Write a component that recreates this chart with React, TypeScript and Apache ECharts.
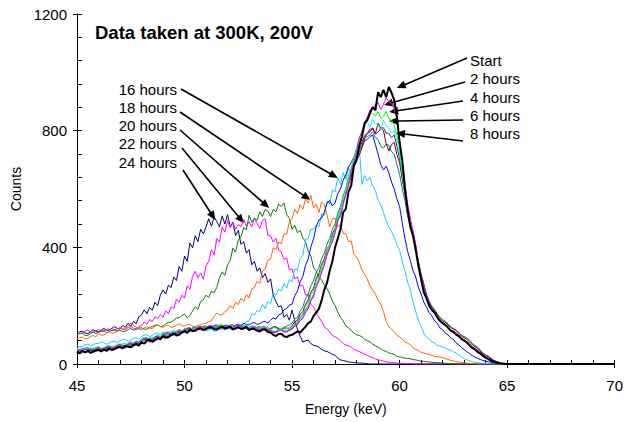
import React, { useEffect, useRef } from "react";
import * as echarts from "echarts";

// Spectra are binned every 0.125 keV from 45 keV to 65 keV (161 bins per run).
const ENERGY_START = 45;
const ENERGY_STEP = 0.125;
const ENERGY_END = 70;

const start = [
  42, 36, 44, 40, 46, 38, 42, 47,
  48, 43, 50, 45, 53, 48, 51, 56,
  58, 54, 62, 59, 57, 64, 68, 63,
  74, 70, 80, 84, 76, 82, 88, 85,
  95, 90, 92, 99, 104, 98, 100, 108,
  112, 107, 118, 113, 114, 120, 122, 116,
  120, 125, 126, 119, 118, 124, 128, 122,
  124, 129, 118, 122, 126, 120, 122, 127,
  116, 121, 120, 114, 112, 118, 118, 110,
  108, 100, 96, 103, 104, 95, 92, 98,
  100, 106, 112, 108, 118, 128, 140, 146,
  165, 176, 190, 218, 255, 278, 320, 352,
  400, 430, 462, 520, 532, 590, 612, 680,
  700, 748, 780, 826, 836, 860, 881, 870,
  932, 915, 940, 915, 950, 930, 905, 847,
  760, 699, 600, 528, 470, 440, 391, 336,
  290, 246, 225, 200, 185, 176, 160, 148,
  140, 134, 125, 114, 110, 101, 96, 86,
  80, 74, 64, 55, 50, 41, 36, 28,
  22, 17, 12, 8, 5, 3, 2, 1,
  0,
];
const hours2 = [
  50, 45, 55, 49, 48, 53, 47, 52,
  56, 51, 52, 58, 60, 55, 58, 63,
  66, 61, 62, 68, 72, 70, 76, 73,
  80, 86, 88, 83, 84, 92, 96, 90,
  100, 106, 108, 102, 104, 111, 114, 109,
  118, 122, 124, 117, 120, 127, 130, 124,
  124, 130, 132, 125, 126, 121, 120, 127,
  130, 125, 124, 131, 132, 126, 126, 121,
  120, 126, 128, 122, 118, 123, 124, 117,
  116, 111, 110, 117, 118, 112, 112, 117,
  122, 134, 140, 158, 165, 186, 195, 218,
  230, 268, 290, 312, 340, 380, 400, 418,
  450, 492, 505, 544, 585, 610, 665, 690,
  730, 775, 795, 830, 845, 872, 876, 890,
  895, 872, 890, 912, 900, 895, 872, 840,
  770, 692, 620, 548, 500, 456, 410, 344,
  300, 268, 230, 212, 190, 178, 162, 150,
  142, 136, 128, 117, 112, 107, 98, 88,
  82, 76, 66, 57, 52, 46, 38, 30,
  24, 20, 14, 10, 6, 4, 2, 1,
  0,
];
const hours4 = [
  46, 52, 49, 55, 48, 54, 55, 50,
  58, 53, 54, 60, 62, 57, 60, 65,
  64, 69, 70, 64, 68, 74, 78, 72,
  84, 80, 82, 90, 92, 87, 98, 94,
  104, 109, 110, 103, 106, 114, 118, 112,
  122, 116, 118, 125, 128, 121, 124, 130,
  130, 124, 122, 129, 128, 135, 134, 127,
  126, 133, 132, 125, 124, 131, 130, 124,
  126, 120, 120, 127, 128, 121, 122, 128,
  118, 125, 124, 116, 114, 121, 120, 126,
  128, 140, 146, 164, 172, 198, 210, 238,
  250, 286, 300, 336, 350, 392, 410, 440,
  460, 508, 530, 578, 600, 648, 670, 712,
  740, 776, 798, 820, 842, 866, 858, 850,
  866, 842, 850, 866, 840, 836, 818, 786,
  740, 664, 600, 530, 480, 446, 400, 340,
  295, 262, 228, 200, 186, 175, 160, 148,
  140, 135, 126, 116, 112, 105, 96, 86,
  80, 75, 66, 56, 52, 45, 36, 28,
  22, 17, 12, 8, 5, 3, 2, 1,
  0,
];
const hours6 = [
  54, 49, 50, 57, 58, 52, 52, 57,
  60, 55, 56, 62, 64, 59, 62, 67,
  70, 65, 66, 72, 76, 71, 80, 77,
  86, 91, 92, 86, 88, 95, 100, 94,
  106, 100, 102, 109, 112, 106, 116, 112,
  120, 125, 126, 119, 122, 128, 128, 122,
  126, 131, 132, 125, 124, 130, 130, 124,
  128, 121, 122, 129, 130, 124, 126, 132,
  122, 128, 128, 121, 120, 126, 126, 120,
  118, 113, 112, 119, 120, 114, 114, 120,
  124, 134, 138, 154, 160, 184, 200, 226,
  240, 274, 290, 326, 345, 382, 405, 436,
  455, 498, 520, 562, 590, 630, 660, 700,
  730, 768, 790, 816, 830, 812, 840, 822,
  820, 800, 836, 818, 810, 792, 800, 764,
  720, 650, 590, 520, 470, 438, 395, 338,
  292, 260, 226, 198, 184, 173, 158, 146,
  138, 133, 124, 115, 110, 104, 95, 86,
  80, 74, 64, 55, 50, 44, 36, 28,
  22, 18, 13, 8, 5, 3, 2, 1,
  0,
];
const hours8 = [
  44, 49, 48, 42, 42, 47, 50, 45,
  52, 47, 48, 54, 56, 51, 54, 59,
  62, 57, 58, 64, 68, 63, 72, 70,
  78, 84, 84, 78, 80, 87, 92, 88,
  98, 93, 94, 101, 106, 100, 110, 106,
  116, 121, 122, 116, 118, 124, 126, 120,
  124, 129, 130, 124, 122, 127, 128, 122,
  126, 120, 120, 126, 128, 123, 124, 129,
  118, 124, 126, 119, 116, 121, 122, 116,
  114, 108, 108, 114, 116, 110, 110, 115,
  120, 130, 134, 150, 156, 178, 190, 218,
  235, 266, 285, 318, 340, 374, 398, 430,
  450, 490, 515, 556, 585, 622, 650, 688,
  710, 742, 760, 784, 790, 806, 805, 788,
  795, 808, 810, 792, 790, 776, 785, 746,
  705, 636, 580, 516, 470, 440, 396, 340,
  295, 262, 228, 202, 186, 175, 160, 148,
  140, 136, 126, 117, 113, 107, 98, 88,
  82, 77, 68, 59, 54, 48, 38, 30,
  24, 20, 14, 10, 6, 4, 2, 1,
  0,
];
const hours10 = [
  40, 45, 46, 40, 42, 47, 48, 43,
  50, 45, 46, 52, 54, 49, 52, 57,
  60, 55, 56, 62, 64, 68, 70, 66,
  76, 81, 82, 76, 78, 85, 90, 86,
  96, 102, 104, 98, 100, 106, 110, 105,
  116, 111, 112, 118, 122, 117, 126, 121,
  122, 128, 130, 124, 124, 131, 132, 126,
  128, 134, 134, 127, 124, 129, 130, 124,
  126, 120, 120, 126, 128, 122, 124, 118,
  120, 126, 126, 120, 116, 122, 124, 118,
  132, 144, 150, 170, 180, 204, 220, 246,
  260, 294, 310, 342, 360, 394, 410, 446,
  465, 498, 520, 556, 580, 618, 640, 678,
  700, 716, 740, 776, 790, 796, 810, 790,
  826, 808, 800, 756, 730, 752, 760, 718,
  690, 634, 590, 524, 480, 446, 405, 350,
  305, 270, 235, 210, 195, 183, 168, 156,
  148, 143, 134, 125, 120, 115, 106, 96,
  90, 85, 76, 66, 60, 54, 44, 35,
  30, 25, 18, 12, 8, 5, 3, 1,
  0,
];
const hours12 = [
  48, 43, 44, 50, 52, 47, 46, 50,
  54, 49, 50, 56, 58, 53, 56, 60,
  64, 59, 60, 66, 70, 65, 74, 71,
  80, 85, 86, 80, 82, 89, 94, 90,
  100, 95, 96, 103, 108, 102, 112, 108,
  118, 123, 124, 118, 120, 126, 128, 122,
  126, 121, 122, 128, 130, 124, 126, 131,
  130, 124, 124, 130, 132, 126, 128, 133,
  124, 130, 130, 124, 122, 128, 128, 122,
  122, 128, 128, 122, 120, 126, 130, 134,
  140, 154, 160, 182, 195, 224, 240, 268,
  285, 314, 330, 362, 380, 410, 430, 462,
  480, 516, 540, 576, 600, 636, 660, 692,
  710, 726, 750, 774, 780, 786, 795, 776,
  770, 746, 740, 754, 750, 728, 720, 684,
  650, 600, 560, 506, 470, 442, 400, 350,
  310, 276, 240, 215, 198, 187, 172, 160,
  152, 147, 138, 128, 122, 117, 108, 99,
  94, 90, 82, 71, 64, 58, 48, 38,
  32, 27, 20, 13, 9, 6, 3, 1,
  0,
];
const hours14 = [
  52, 47, 48, 54, 56, 51, 50, 55,
  58, 53, 54, 60, 62, 57, 60, 64,
  68, 63, 64, 70, 74, 69, 78, 75,
  84, 89, 90, 84, 86, 93, 98, 93,
  104, 99, 100, 106, 110, 105, 116, 112,
  122, 116, 118, 124, 128, 122, 124, 129,
  130, 125, 126, 132, 134, 128, 128, 133,
  132, 126, 126, 133, 136, 130, 140, 135,
  134, 140, 142, 136, 138, 144, 146, 141,
  150, 158, 154, 168, 172, 186, 190, 202,
  205, 234, 250, 282, 300, 338, 360, 402,
  430, 472, 494, 500, 520, 552, 560, 542,
  552, 584, 600, 630, 648, 676, 690, 710,
  720, 740, 745, 766, 770, 780, 785, 752,
  720, 684, 665, 678, 655, 624, 600, 566,
  540, 483, 430, 386, 355, 320, 298, 262,
  240, 212, 195, 176, 165, 148, 140, 124,
  118, 106, 100, 90, 84, 73, 66, 56,
  50, 42, 36, 29, 24, 19, 16, 12,
  10, 8, 6, 4, 3, 2, 1, 0,
  0,
];
const hours16 = [
  64, 59, 60, 66, 68, 63, 66, 70,
  70, 75, 74, 68, 72, 77, 78, 73,
  80, 85, 84, 78, 82, 88, 90, 85,
  94, 99, 100, 94, 98, 104, 106, 101,
  110, 105, 106, 112, 114, 109, 118, 115,
  120, 115, 116, 122, 124, 118, 120, 126,
  112, 117, 118, 112, 114, 120, 122, 116,
  120, 125, 126, 134, 128, 136, 136, 146,
  148, 172, 168, 184, 180, 204, 190, 214,
  206, 244, 236, 256, 250, 276, 260, 290,
  282, 326, 322, 362, 372, 428, 430, 462,
  462, 476, 470, 516, 510, 560, 548, 596,
  590, 640, 616, 656, 632, 672, 656, 700,
  690, 740, 616, 646, 628, 640, 610, 594,
  562, 546, 520, 490, 470, 454, 435, 408,
  391, 350, 320, 280, 255, 212, 180, 150,
  130, 106, 93, 86, 75, 72, 64, 62,
  58, 55, 50, 47, 42, 38, 32, 24,
  18, 14, 11, 8, 6, 4, 3, 2,
  2, 1, 1, 0, 0, 0, 0, 0,
  0,
];
const hours18 = [
  86, 91, 92, 86, 88, 94, 98, 93,
  104, 99, 100, 106, 112, 106, 108, 113,
  127, 121, 120, 132, 140, 133, 126, 120,
  117, 123, 128, 122, 122, 129, 134, 128,
  126, 131, 132, 126, 127, 133, 138, 132,
  130, 135, 136, 130, 128, 133, 134, 138,
  140, 146, 148, 164, 175, 168, 168, 180,
  185, 200, 190, 212, 204, 226, 214, 238,
  226, 258, 262, 284, 276, 318, 326, 356,
  360, 398, 392, 418, 412, 448, 444, 488,
  498, 530, 516, 546, 530, 566, 552, 578,
  536, 548, 520, 556, 546, 512, 470, 498,
  500, 470, 478, 448, 446, 420, 422, 376,
  367, 348, 322, 308, 290, 268, 254, 240,
  219, 204, 180, 146, 127, 120, 110, 98,
  93, 86, 75, 72, 65, 56, 50, 46,
  40, 38, 34, 33, 30, 26, 25, 24,
  22, 18, 16, 12, 11, 8, 7, 5,
  4, 3, 2, 1, 1, 0, 0, 0,
  0, 0, 0, 0, 0, 0, 0, 0,
  0,
];
const hours20 = [
  100, 105, 106, 98, 98, 104, 110, 104,
  108, 113, 114, 108, 110, 116, 118, 112,
  116, 111, 112, 118, 122, 116, 118, 123,
  124, 119, 120, 126, 128, 133, 134, 129,
  130, 138, 142, 144, 150, 158, 158, 166,
  172, 158, 166, 182, 196, 188, 214, 220,
  236, 228, 250, 244, 262, 296, 316, 304,
  340, 356, 398, 384, 426, 436, 468, 460,
  510, 486, 500, 492, 522, 506, 530, 524,
  506, 530, 522, 548, 540, 552, 512, 500,
  462, 476, 450, 458, 432, 420, 386, 370,
  330, 318, 298, 288, 270, 258, 240, 216,
  200, 178, 160, 148, 130, 124, 115, 106,
  100, 98, 93, 84, 80, 76, 68, 62,
  58, 53, 46, 43, 38, 36, 32, 27,
  24, 23, 20, 19, 18, 15, 14, 12,
  10, 9, 8, 7, 6, 5, 5, 4,
  3, 2, 2, 1, 1, 0, 0, 0,
  0, 0, 0, 0, 0, 0, 0, 0,
  0, 0, 0, 0, 0, 0, 0, 0,
  0,
];
const hours22 = [
  110, 104, 106, 113, 116, 110, 108, 114,
  118, 112, 112, 119, 120, 114, 116, 121,
  124, 118, 118, 125, 128, 122, 122, 127,
  132, 144, 136, 152, 146, 162, 156, 170,
  160, 182, 172, 196, 190, 222, 212, 236,
  226, 268, 256, 300, 318, 296, 312, 290,
  336, 352, 392, 374, 430, 418, 470, 452,
  492, 468, 484, 462, 478, 470, 496, 472,
  488, 470, 500, 482, 464, 492, 498, 440,
  440, 418, 432, 390, 384, 358, 364, 322,
  326, 292, 298, 268, 270, 236, 238, 204,
  195, 174, 160, 146, 127, 120, 110, 98,
  93, 88, 80, 70, 65, 63, 58, 50,
  46, 43, 38, 33, 30, 25, 22, 17,
  14, 13, 10, 7, 6, 5, 4, 3,
  3, 2, 2, 1, 1, 0, 0, 0,
  0, 0, 0, 0, 0, 0, 0, 0,
  0, 0, 0, 0, 0, 0, 0, 0,
  0, 0, 0, 0, 0, 0, 0, 0,
  0, 0, 0, 0, 0, 0, 0, 0,
  0,
];
const hours24 = [
  106, 111, 112, 106, 104, 110, 118, 112,
  110, 116, 122, 116, 116, 122, 128, 122,
  120, 132, 126, 140, 128, 146, 138, 162,
  168, 186, 172, 194, 184, 212, 200, 236,
  254, 240, 270, 262, 298, 286, 334, 318,
  370, 352, 415, 398, 440, 420, 462, 446,
  470, 498, 472, 505, 488, 470, 508, 480,
  512, 470, 486, 440, 458, 410, 420, 380,
  392, 340, 352, 318, 330, 296, 310, 280,
  292, 236, 214, 196, 200, 160, 170, 150,
  185, 148, 120, 96, 75, 80, 82, 70,
  64, 62, 58, 50, 45, 43, 38, 33,
  30, 20, 14, 12, 10, 7, 6, 5,
  4, 3, 3, 2, 1, 0, 0, 0,
  0, 0, 0, 0, 0, 0, 0, 0,
  0, 0, 0, 0, 0, 0, 0, 0,
  0, 0, 0, 0, 0, 0, 0, 0,
  0, 0, 0, 0, 0, 0, 0, 0,
  0, 0, 0, 0, 0, 0, 0, 0,
  0, 0, 0, 0, 0, 0, 0, 0,
  0,
];

// Drawing order: the oldest run last so it sits on top.
const SERIES_NAMES = [
  "24 hours", "22 hours", "20 hours", "18 hours", "16 hours", "14 hours", "12 hours",
  "10 hours", "8 hours", "6 hours", "4 hours", "2 hours", "Start",
];
const SERIES_VALUES = [
  hours24, hours22, hours20, hours18, hours16, hours14, hours12,
  hours10, hours8, hours6, hours4, hours2, start,
];
const SERIES_COLORS = [
  "#000080", "#ff00ff", "#008000", "#ff6600", "#1ec8ff", "#0000ff", "#008080",
  "#800000", "#800080", "#00ffff", "#00ff00", "#ff00ff", "#000000",
];

// Callouts: label text, label anchor (px), arrow tail (px), arrow tip (keV, counts)
const RIGHT_LABELS = ["Start", "2 hours", "4 hours", "6 hours", "8 hours"];
const RIGHT_LABEL_Y = [60, 78, 97, 115, 133];
const RIGHT_TAILS = [[467, 58], [465, 82], [463, 101], [463, 120], [463, 141]];
const RIGHT_TIPS = [[59.87, 946], [59.28, 888], [59.51, 864], [59.51, 833], [59.83, 792]];

const LEFT_LABELS = ["16 hours", "18 hours", "20 hours", "22 hours", "24 hours"];
const LEFT_LABEL_Y = [89, 107, 125, 143, 162];
const LEFT_TAILS = [[181, 89], [180, 112], [180, 130], [182, 148], [183, 170]];
const LEFT_TIPS = [[57.13, 638], [55.86, 562], [53.94, 535], [52.76, 483], [51.43, 494]];

const FONT = "'Liberation Sans', Arial, Helvetica, sans-serif";

function toPoints(values: number[]): number[][] {
  const pts = values.map((v, i) => [ENERGY_START + i * ENERGY_STEP, v]);
  pts.push([ENERGY_END, 0]);
  return pts;
}

function arrow(tail: number[], tip: number[]) {
  const dx = tip[0] - tail[0];
  const dy = tip[1] - tail[1];
  const len = Math.sqrt(dx * dx + dy * dy) || 1;
  const ux = dx / len;
  const uy = dy / len;
  const headLen = 9;
  const headHalf = 4;
  const bx = tip[0] - ux * headLen;
  const by = tip[1] - uy * headLen;
  return [
    {
      type: "line",
      silent: true,
      shape: { x1: tail[0], y1: tail[1], x2: bx + ux, y2: by + uy },
      style: { stroke: "#000", lineWidth: 1.6 },
    },
    {
      type: "polygon",
      silent: true,
      shape: {
        points: [
          [tip[0], tip[1]],
          [bx - uy * headHalf, by + ux * headHalf],
          [bx + uy * headHalf, by - ux * headHalf],
        ],
      },
      style: { fill: "#000" },
    },
  ];
}

export default function App() {
  const ref = useRef<HTMLDivElement>(null);

  useEffect(() => {
    if (!ref.current) return;
    const chart = echarts.init(ref.current, null, { renderer: "svg" });

    const axisLineStyle = { color: "#000", width: 1 };
    const labelStyle = { color: "#000", fontSize: 15, fontFamily: FONT };
    const plain = (v: number) => String(v);

    const option: any = {
      animation: false,
      backgroundColor: "#fff",
      title: {
        text: "Data taken at 300K, 200V",
        left: 95,
        top: 23,
        padding: 0,
        textStyle: { fontSize: 18.5, fontWeight: "bold", color: "#000", fontFamily: FONT },
      },
      grid: { left: 77, right: 1, top: 14, bottom: 58, containLabel: false },
      xAxis: [
        {
          type: "value",
          position: "bottom",
          min: 45,
          max: 70,
          interval: 5,
          name: "Energy (keV)",
          nameLocation: "middle",
          nameGap: 38,
          nameTextStyle: { color: "#000", fontSize: 14, fontFamily: FONT },
          axisLine: { show: true, onZero: false, lineStyle: axisLineStyle },
          axisTick: { show: true, inside: true, length: 4, lineStyle: axisLineStyle },
          minorTick: { show: true, splitNumber: 5, length: 4, lineStyle: axisLineStyle },
          axisLabel: { ...labelStyle, margin: 14, formatter: plain },
          splitLine: { show: false },
        },
        {
          type: "value",
          position: "bottom",
          min: 45,
          max: 70,
          interval: 5,
          axisLine: { show: false },
          axisTick: { show: true, inside: false, length: 4, lineStyle: axisLineStyle },
          axisLabel: { show: false },
          splitLine: { show: false },
        },
      ],
      yAxis: [
        {
          type: "value",
          position: "left",
          min: 0,
          max: 1200,
          interval: 400,
          name: "Counts",
          nameLocation: "middle",
          nameGap: 52,
          nameTextStyle: { color: "#000", fontSize: 14, fontFamily: FONT },
          axisLine: { show: true, onZero: false, lineStyle: axisLineStyle },
          axisTick: { show: true, inside: true, length: 5, lineStyle: axisLineStyle },
          minorTick: { show: true, splitNumber: 5, length: 5, lineStyle: axisLineStyle },
          axisLabel: { ...labelStyle, margin: 10, formatter: plain },
          splitLine: { show: false },
        },
        {
          type: "value",
          position: "left",
          min: 0,
          max: 1200,
          interval: 400,
          axisLine: { show: false },
          axisTick: { show: true, inside: false, length: 4, lineStyle: axisLineStyle },
          axisLabel: { show: false },
          splitLine: { show: false },
        },
      ],
      series: SERIES_NAMES.map((name, i) => ({
        name,
        type: "line",
        xAxisIndex: 0,
        yAxisIndex: 0,
        data: toPoints(SERIES_VALUES[i]),
        symbol: "none",
        silent: true,
        clip: true,
        lineStyle: { color: SERIES_COLORS[i], width: name === "Start" ? 2 : 1 },
        emphasis: { disabled: true },
      })),
    };

    chart.setOption(option);

    const toPx = (p: number[]) =>
      chart.convertToPixel({ xAxisIndex: 0, yAxisIndex: 0 }, p) as number[];

    const graphics: any[] = [];
    RIGHT_LABELS.forEach((text, i) => {
      graphics.push({
        type: "text",
        silent: true,
        x: 470,
        y: RIGHT_LABEL_Y[i],
        style: { text, fill: "#000", fontSize: 15, fontFamily: FONT, align: "left", verticalAlign: "middle" },
      });
      graphics.push(...arrow(RIGHT_TAILS[i], toPx(RIGHT_TIPS[i])));
    });
    LEFT_LABELS.forEach((text, i) => {
      graphics.push({
        type: "text",
        silent: true,
        x: 177,
        y: LEFT_LABEL_Y[i],
        style: { text, fill: "#000", fontSize: 15, fontFamily: FONT, align: "right", verticalAlign: "middle" },
      });
      graphics.push(...arrow(LEFT_TAILS[i], toPx(LEFT_TIPS[i])));
    });

    chart.setOption({ graphic: graphics });

    return () => chart.dispose();
  }, []);

  return (
    <div
      ref={ref}
      style={{ position: "fixed", left: 0, top: 0, width: 626, height: 422, background: "#fff" }}
    />
  );
}
